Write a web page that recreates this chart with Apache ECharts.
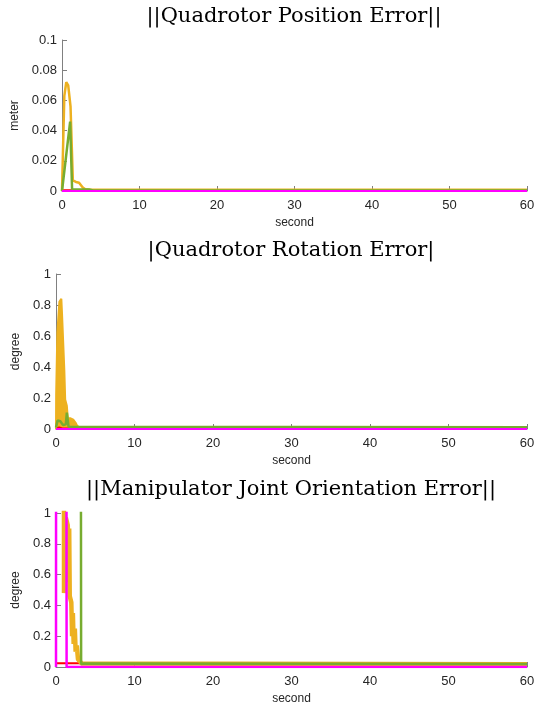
<!DOCTYPE html>
<html>
<head>
<meta charset="utf-8">
<script src="https://cdn.jsdelivr.net/npm/echarts@6/dist/echarts.min.js"></script>
<style>
  html, body { margin: 0; padding: 0; background: #fff; }
  #chart { width: 540px; height: 708px; }
</style>
</head>
<body>
<div id="chart"></div>
<script>
// time ticks
const xTicks = [0, 10, 20, 30, 40, 50, 60];

// panel 1: position error (meter)
const t1Red = [0, 60];
const v1Red = [0.0005, 0.0005];
const t1Yellow = [0, 0.3, 0.55, 0.8, 1.1, 1.4, 1.8, 2.2, 2.4, 2.65, 3.0, 3.5, 60];
const v1Yellow = [0, 0.063, 0.072, 0.07, 0.056, 0.007, 0.006, 0.0055, 0.0055, 0.0025, 0.0012, 0.0008, 0.0008];
const t1Green = [0, 1.05, 1.3, 3.5, 4, 60];
const v1Green = [0, 0.046, 0.0012, 0.001, 0.0003, 0.0003];
const t1Magenta = [0, 60];
const v1Magenta = [0, 0];

// panel 2: rotation error (degree)
const t2Red = [0, 0.4, 0.6, 0.8, 60];
const v2Red = [0.003, 0.01, 0.012, 0.003, 0.003];
const t2Yellow = [0, 0.02, 0.17, 0.43, 0.68, 0.77, 0.98, 1.06, 1.17, 1.38, 1.5, 1.8, 2.2, 2.5, 2.7, 3.0, 60];
const v2Yellow = [0, 0.22, 0.62, 0.82, 0.84, 0.74, 0.73, 0.38, 0.19, 0.15, 0.07, 0.07, 0.06, 0.04, 0.02, 0.01, 0.008];
const t2Green = [0, 0.2, 0.55, 0.9, 1.25, 1.38, 1.48, 1.6, 60];
const v2Green = [0.01, 0.055, 0.05, 0.025, 0.03, 0.105, 0.1, 0.015, 0.012];
const t2Magenta = [0, 60];
const v2Magenta = [0, 0];

// panel 3: joint orientation error (degree), big values get clipped at 1
const t3Red = [0, 60];
const v3Red = [0.025, 0.023];
const t3Yellow = [0, 0.98, 1.02, 1.2, 1.25, 1.5, 1.6, 1.68, 1.75, 1.95, 2.05, 2.15, 2.25, 2.4, 2.5, 2.65, 2.8, 3.0, 3.3, 60];
const v3Yellow = [5, 5, 0.48, 0.48, 0.97, 0.92, 0.55, 0.9, 0.46, 0.42, 0.2, 0.35, 0.15, 0.25, 0.1, 0.14, 0.05, 0.04, 0.022, 0.018];
const t3Green = [0, 3.1, 3.2, 3.6, 60];
const v3Green = [5, 5, 0.02, 0.022, 0.02];
const t3Magenta = [0, 0.03, 1.3, 1.35, 60];
const v3Magenta = [0, 5, 5, 0, 0];

const RED = '#ff0000';
const YELLOW = '#edb120';
const GREEN = '#77ac30';
const MAGENTA = '#ff00ff';
const AXIS = '#808080';
const TEXT = '#262626';

function zip(t, v) {
    return t.map((x, i) => [x, v[i]]);
}

document.addEventListener('DOMContentLoaded', function () {
    const chart = echarts.init(document.getElementById('chart'), null, { renderer: 'canvas' });

    const grids = [
        { left: 62, right: 13, top: 40, height: 151 },
        { left: 56, right: 13, top: 274, height: 155 },
        { left: 56, right: 13, top: 513, height: 154 }
    ];

    function xAxis(gi) {
        return {
            type: 'value', gridIndex: gi, min: 0, max: 60, interval: 10,
            name: 'second', nameLocation: 'middle', nameGap: 26,
            nameTextStyle: { color: TEXT, fontSize: 12, fontFamily: 'Liberation Sans' },
            axisLine: { show: true, lineStyle: { color: AXIS, width: 1 } },
            axisTick: { show: true, inside: true, length: 5, lineStyle: { color: AXIS } },
            axisLabel: { color: TEXT, fontSize: 13, fontFamily: 'Liberation Sans', margin: 8,
                formatter: v => xTicks.includes(v) ? String(v) : '' },
            splitLine: { show: false }
        };
    }

    function yAxis(gi, max, interval, name, gap) {
        return {
            type: 'value', gridIndex: gi, min: 0, max: max, interval: interval,
            name: name, nameLocation: 'middle', nameGap: gap, nameRotate: 90,
            nameTextStyle: { color: TEXT, fontSize: 12, fontFamily: 'Liberation Sans' },
            axisLine: { show: true, lineStyle: { color: AXIS, width: 1 } },
            axisTick: { show: true, inside: true, length: 5, lineStyle: { color: AXIS } },
            axisLabel: { color: TEXT, fontSize: 13, fontFamily: 'Liberation Sans', margin: 5,
                formatter: v => String(+v.toFixed(2)) },
            splitLine: { show: false }
        };
    }

    function line(gi, t, v, color, width, extra) {
        return Object.assign({
            type: 'line', xAxisIndex: gi, yAxisIndex: gi,
            data: zip(t, v), symbol: 'none', clip: true,
            lineStyle: { color: color, width: width },
            itemStyle: { color: color }
        }, extra || {});
    }

    const titleFont = '21px "DejaVu Serif"';
    function title(text, x, y) {
        return {
            type: 'text', x: x, y: y,
            style: { text: text, font: titleFont, fill: '#000',
                align: 'center', verticalAlign: 'middle',
                textAlign: 'center', textVerticalAlign: 'middle' }
        };
    }

    const option = {
        animation: false,
        grid: grids,
        xAxis: [xAxis(0), xAxis(1), xAxis(2)],
        yAxis: [
            yAxis(0, 0.1, 0.02, 'meter', 29),
            yAxis(1, 1, 0.2, 'degree', 21),
            yAxis(2, 1, 0.2, 'degree', 21)
        ],
        graphic: [
            title('||Quadrotor Position Error||', 294, 17),
            title('|Quadrotor Rotation Error|', 291, 251),
            title('||Manipulator Joint Orientation Error||', 291, 490)
        ],
        series: [
            line(0, t1Red, v1Red, RED, 2),
            line(0, t1Yellow, v1Yellow, YELLOW, 2.5),
            line(0, t1Green, v1Green, GREEN, 2.5),
            line(0, t1Magenta, v1Magenta, MAGENTA, 2),

            line(1, t2Red, v2Red, RED, 2),
            line(1, t2Yellow, v2Yellow, YELLOW, 2, { areaStyle: { color: YELLOW, opacity: 1 } }),
            line(1, t2Green, v2Green, GREEN, 2.5),
            line(1, t2Magenta, v2Magenta, MAGENTA, 2),

            line(2, t3Red, v3Red, RED, 2),
            line(2, t3Yellow, v3Yellow, YELLOW, 4.5),
            line(2, t3Green, v3Green, GREEN, 2.5),
            line(2, t3Magenta, v3Magenta, MAGENTA, 2.5)
        ]
    };
    chart.setOption(option);

    window.addEventListener('resize', function () {
        chart.resize();
    });
});
</script>
</body>
</html>
